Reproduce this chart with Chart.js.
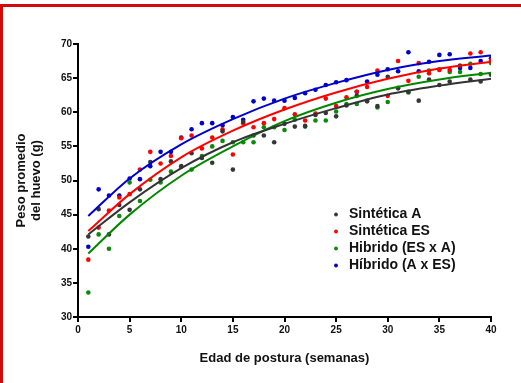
<!DOCTYPE html>
<html><head><meta charset="utf-8">
<script src="https://cdn.jsdelivr.net/npm/chart.js@4.4.1/dist/chart.umd.min.js"></script>
<style>html,body{margin:0;padding:0;background:#fff;}canvas{display:block;}</style>
</head><body>
<canvas id="c" width="521" height="383"></canvas>
<script>
// ---- data ----
const weeks = [1,2,3,4,5,6,7,8,9,10,11,12,13,14,15,16,17,18,19,20,21,22,23,24,25,26,27,28,29,30,31,32,33,34,35,36,37,38,39,40];
const seriesLabels = ['Sintética A', 'Sintética ES', 'Hibrido (ES x A)', 'Híbrido (A x ES)'];
const sinteticaA = [41.8,45.8,42.1,46.4,45.7,48.7,52.7,50.2,52.8,52.1,54.0,53.3,52.6,57.2,51.6,58.6,56.6,56.6,55.6,58.3,57.9,58.0,59.6,59.9,59.4,61.0,62.4,61.6,60.9,65.2,63.5,63.0,61.7,64.8,64.0,64.5,66.8,64.8,64.5,65.5];
const sinteticaES = [38.4,43.1,45.6,47.5,48.0,51.6,54.2,52.5,53.6,56.2,56.6,54.7,56.3,57.5,53.8,58.4,57.8,58.4,59.0,60.6,59.7,58.8,59.8,62.0,60.9,62.2,63.0,63.7,66.1,62.4,67.5,64.6,67.2,65.7,66.2,66.2,66.8,68.6,68.8,67.6];
const hibridoESxA = [33.6,42.1,40.0,44.8,49.7,47.0,50.1,49.7,51.3,52.0,51.6,53.6,55.0,55.8,55.6,55.6,55.6,57.8,57.8,57.4,58.9,57.9,58.8,58.8,60.1,61.2,61.2,61.7,60.7,61.5,63.6,62.9,65.2,66.1,66.3,65.9,65.9,67.1,65.6,67.2];
const hibridoAxES = [40.3,48.7,47.8,47.8,50.3,50.2,52.1,54.2,54.2,56.3,57.5,58.4,58.4,58.1,59.3,58.9,61.6,62.0,61.7,61.7,62.1,62.8,63.3,64.0,64.4,64.7,63.0,64.5,65.5,66.3,66.0,68.8,66.0,67.4,68.4,68.5,66.5,66.5,67.5,67.9];
// fitted curves, read at sample weeks
const curveWeeks = [1,5,10,15,20,25,30,35,40];
const curveA = [42.1,46.8,51.8,55.6,58.3,60.6,62.6,63.9,64.9];
const curveES = [42.6,48.0,53.4,57.3,60.4,62.9,64.9,66.4,67.4];
const curveESxA = [39.3,45.0,50.7,55.0,58.7,61.4,63.4,64.8,65.8];
const curveAxES = [44.8,50.3,55.3,59.0,62.0,64.3,66.2,67.5,68.3];
const xTicks = [0,5,10,15,20,25,30,35,40];
const yTicks = [30,35,40,45,50,55,60,65,70];

const FONT = "'Liberation Sans', Arial, Helvetica, sans-serif";
const pointColors = ['#363636', '#ff0000', '#0a8a0a', '#0000cc'];
const lineColors = ['#333333', '#ff0000', '#008800', '#0000cc'];

const pts = (arr) => weeks.map((w, i) => ({x: w, y: arr[i]}));
const crv = (arr) => curveWeeks.map((w, i) => ({x: w, y: arr[i]}));
const values = [sinteticaA, sinteticaES, hibridoESxA, hibridoAxES];
const curves = [curveA, curveES, curveESxA, curveAxES];

const datasets = [];
curves.forEach((c, i) => datasets.push({
  label: 'fit' + i, data: crv(c), showLine: true, borderColor: lineColors[i],
  borderWidth: 2, pointRadius: 0, cubicInterpolationMode: 'monotone', fill: false, isFit: true
}));
values.forEach((v, i) => datasets.push({
  label: seriesLabels[i], data: pts(v), showLine: false, pointRadius: 2.3,
  pointBackgroundColor: pointColors[i], pointBorderWidth: 0, borderColor: pointColors[i],
  backgroundColor: pointColors[i]
}));

const frame = {
  id: 'frame',
  beforeDraw(chart) {
    const ctx = chart.ctx;
    ctx.save();
    ctx.fillStyle = '#ffffff';
    ctx.fillRect(0, 0, chart.width, chart.height);
    ctx.fillStyle = '#d40a0a';
    ctx.fillRect(0, 4, chart.width, 3);
    ctx.fillRect(0, 4, 3, chart.height - 4);
    ctx.restore();
  }
};
const legendPlugin = {
  id: 'customLegend',
  afterDraw(chart) {
    const ctx = chart.ctx;
    ctx.save();
    ctx.font = 'bold 14px ' + FONT;
    ctx.textBaseline = 'middle';
    ctx.textAlign = 'left';
    seriesLabels.forEach((lab, i) => {
      const y = 214.5 + i * 17;
      ctx.fillStyle = pointColors[i];
      ctx.beginPath(); ctx.arc(336, y, 1.9, 0, Math.PI * 2); ctx.fill();
      ctx.fillStyle = '#111111';
      ctx.fillText(lab, 349, y);
    });
    ctx.restore();
  }
};

new Chart(document.getElementById('c'), {
  type: 'scatter',
  data: { datasets },
  options: {
    responsive: false, animation: false, devicePixelRatio: 1,
    layout: { padding: { left: 0, top: 44, right: 30, bottom: 0 } },
    plugins: { legend: { display: false }, tooltip: { enabled: false } },
    scales: {
      x: {
        type: 'linear', min: 0, max: 40,
        afterBuildTicks: (s) => { s.ticks = xTicks.map(v => ({value: v})); },
        afterFit: (s) => { s.height = 66; },
        ticks: { color: '#111', font: { family: FONT, size: 10, weight: 'bold' }, padding: 2, maxRotation: 0 },
        grid: { display: true, drawOnChartArea: false, drawTicks: true, tickLength: 5, color: '#000', lineWidth: 2 },
        border: { display: true, color: '#000', width: 2 },
        title: { display: true, text: 'Edad de postura (semanas)', color: '#111',
          font: { family: FONT, size: 13, weight: 'bold', lineHeight: 1.2 }, padding: { top: 0, bottom: 16.5 } }
      },
      y: {
        type: 'linear', min: 30, max: 70,
        afterBuildTicks: (s) => { s.ticks = yTicks.map(v => ({value: v})); },
        afterFit: (s) => { s.width = 78; },
        ticks: { color: '#111', font: { family: FONT, size: 10, weight: 'bold' }, padding: 1 },
        grid: { display: true, drawOnChartArea: false, drawTicks: true, tickLength: 5, color: '#000', lineWidth: 2 },
        border: { display: true, color: '#000', width: 2 },
        title: { display: true, text: ['Peso promedio', 'del huevo (g)'], color: '#111',
          font: { family: FONT, size: 13, weight: 'bold', lineHeight: 1.15 }, padding: { top: 13.5, bottom: 0 } }
      }
    }
  },
  plugins: [frame, legendPlugin]
});
</script>
</body></html>
